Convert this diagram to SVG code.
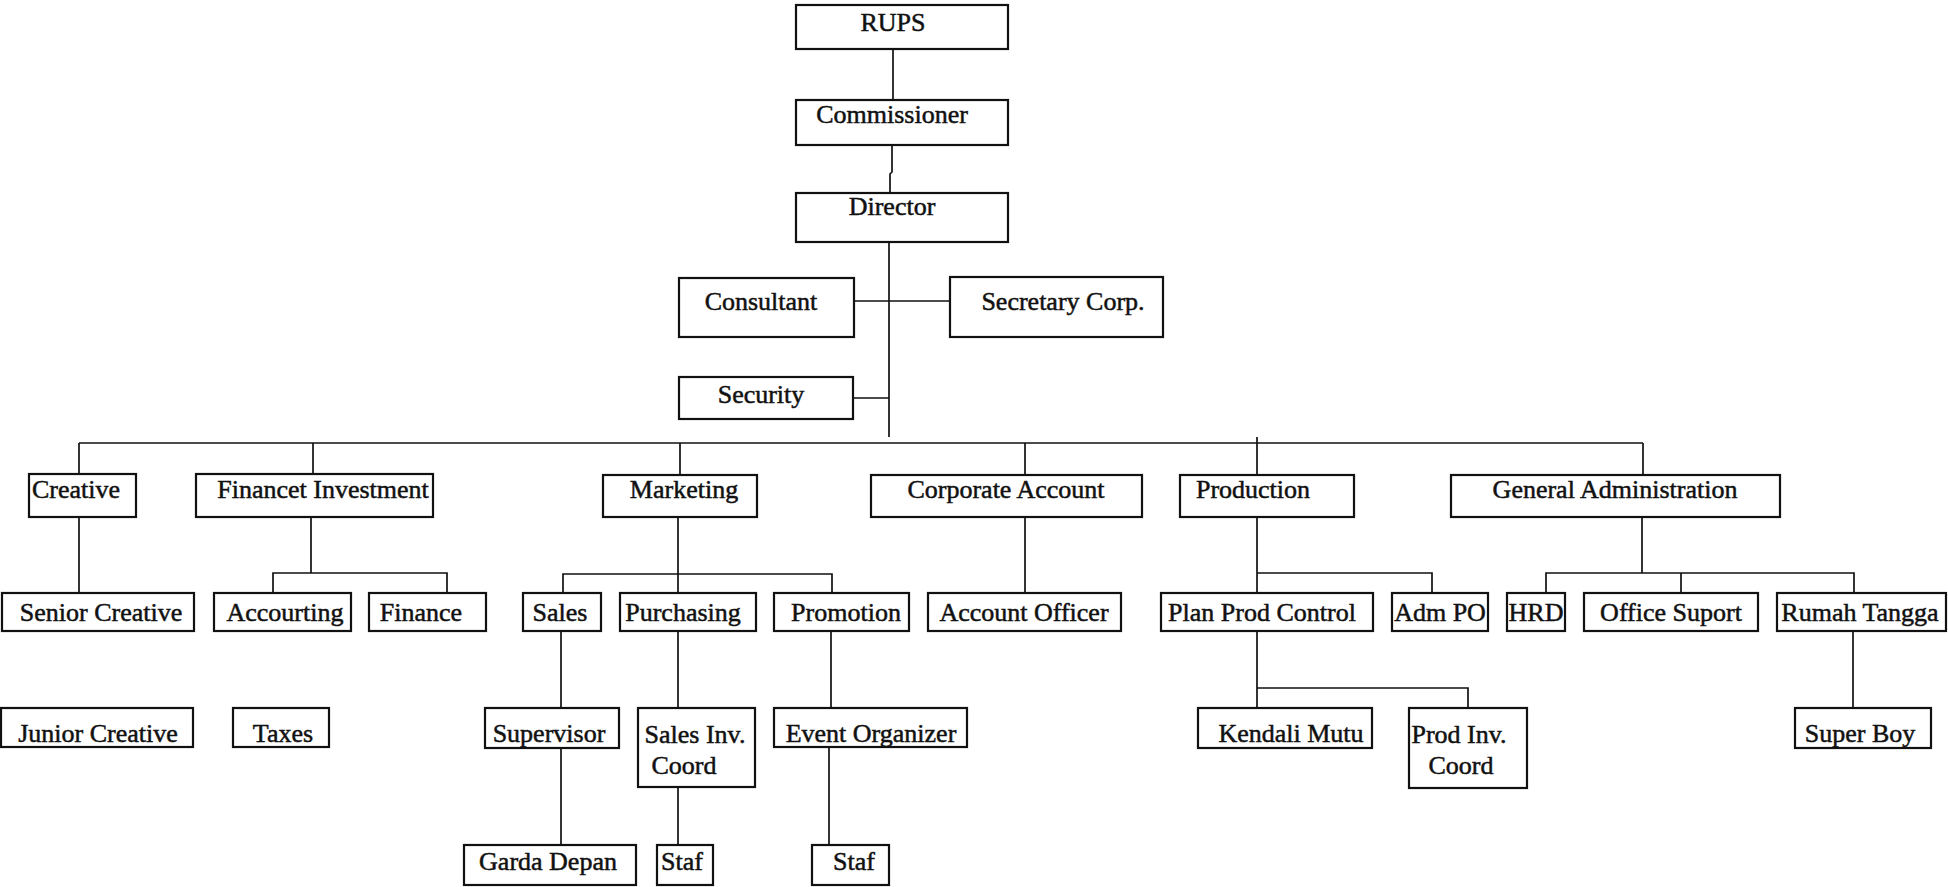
<svg xmlns="http://www.w3.org/2000/svg" width="1948" height="887" viewBox="0 0 1948 887">
<style>
.b{fill:#fff;stroke:#111;stroke-width:2.2}
.t{font-family:"Liberation Serif","Times New Roman",serif;font-size:26px;fill:#111;stroke:#111;stroke-width:0.5;text-anchor:middle}
.c{fill:none;stroke:#111;stroke-width:1.7}
</style>
<rect width="1948" height="887" fill="#fff"/>
<g id="connectors" class="c">
<path d="M893 49V100"/>
<path d="M892 145V172L890 174V193"/>
<path d="M889 242V437"/>
<path d="M854 301H950"/>
<path d="M853 398H889"/>
<path d="M79 443H1643"/>
<path d="M79 443V474M313 443V474M680 443V475M1025 443V476M1257 437V475M1643 443V475"/>
<path d="M79 517V593"/>
<path d="M311 517V573M273 593V573H447V593"/>
<path d="M678 517V593M563 593V574H832V593"/>
<path d="M1025 516V593"/>
<path d="M1257 517V593M1257 573H1432V593"/>
<path d="M1642 517V573M1546 593V573H1854V593M1681 573V593"/>
<path d="M561 631V708M561 748V845"/>
<path d="M678 631V708M678 787V845"/>
<path d="M831 631V708M829 747V845"/>
<path d="M1257 631V708M1257 688H1468V708"/>
<path d="M1853 631V708"/>
</g>
<g id="rups"><rect class="b" x="796" y="5" width="212" height="44"/><text class="t" x="893" y="31">RUPS</text></g>
<g id="commissioner"><rect class="b" x="796" y="100" width="212" height="45"/><text class="t" x="892" y="123">Commissioner</text></g>
<g id="director"><rect class="b" x="796" y="193" width="212" height="49"/><text class="t" x="892" y="215">Director</text></g>
<g id="consultant"><rect class="b" x="679" y="278" width="175" height="59"/><text class="t" x="761" y="310">Consultant</text></g>
<g id="secretary"><rect class="b" x="950" y="277" width="213" height="60"/><text class="t" x="1063" y="310">Secretary Corp.</text></g>
<g id="security"><rect class="b" x="679" y="377" width="174" height="42"/><text class="t" x="761" y="403">Security</text></g>
<g id="creative"><rect class="b" x="29" y="474" width="107" height="43"/><text class="t" x="76" y="498">Creative</text></g>
<g id="financet"><rect class="b" x="196" y="474" width="237" height="43"/><text class="t" x="323" y="498">Financet Investment</text></g>
<g id="marketing"><rect class="b" x="603" y="475" width="154" height="42"/><text class="t" x="684" y="498">Marketing</text></g>
<g id="corporate"><rect class="b" x="871" y="475" width="271" height="42"/><text class="t" x="1006" y="498">Corporate Account</text></g>
<g id="production"><rect class="b" x="1180" y="475" width="174" height="42"/><text class="t" x="1253" y="498">Production</text></g>
<g id="genadmin"><rect class="b" x="1451" y="475" width="329" height="42"/><text class="t" x="1615" y="498">General Administration</text></g>
<g id="seniorcreative"><rect class="b" x="2" y="593" width="192" height="38"/><text class="t" x="101" y="621">Senior Creative</text></g>
<g id="accourting"><rect class="b" x="214" y="593" width="137" height="38"/><text class="t" x="285" y="621">Accourting</text></g>
<g id="finance"><rect class="b" x="369" y="593" width="117" height="38"/><text class="t" x="421" y="621">Finance</text></g>
<g id="sales"><rect class="b" x="523" y="593" width="78" height="38"/><text class="t" x="560" y="621">Sales</text></g>
<g id="purchasing"><rect class="b" x="620" y="593" width="136" height="38"/><text class="t" x="683" y="621">Purchasing</text></g>
<g id="promotion"><rect class="b" x="774" y="593" width="135" height="38"/><text class="t" x="846" y="621">Promotion</text></g>
<g id="accountofficer"><rect class="b" x="928" y="593" width="193" height="38"/><text class="t" x="1024" y="621">Account Officer</text></g>
<g id="planprod"><rect class="b" x="1161" y="593" width="212" height="38"/><text class="t" x="1262" y="621">Plan Prod Control</text></g>
<g id="admpo"><rect class="b" x="1392" y="593" width="96" height="38"/><text class="t" x="1440" y="621">Adm PO</text></g>
<g id="hrd"><rect class="b" x="1507" y="593" width="58" height="38"/><text class="t" x="1536" y="621">HRD</text></g>
<g id="officesuport"><rect class="b" x="1584" y="593" width="174" height="38"/><text class="t" x="1671" y="621">Office Suport</text></g>
<g id="rumahtangga"><rect class="b" x="1777" y="593" width="169" height="38"/><text class="t" x="1860" y="621">Rumah Tangga</text></g>
<g id="juniorcreative"><rect class="b" x="1" y="708" width="192" height="39"/><text class="t" x="98" y="742">Junior Creative</text></g>
<g id="taxes"><rect class="b" x="233" y="708" width="96" height="39"/><text class="t" x="283" y="742">Taxes</text></g>
<g id="supervisor"><rect class="b" x="485" y="708" width="134" height="40"/><text class="t" x="549" y="742">Supervisor</text></g>
<g id="salesinv"><rect class="b" x="638" y="708" width="117" height="79"/><text class="t" x="695" y="743">Sales Inv.</text><text class="t" x="684" y="774">Coord</text></g>
<g id="eventorg"><rect class="b" x="774" y="708" width="193" height="39"/><text class="t" x="871" y="742">Event Organizer</text></g>
<g id="kendalimutu"><rect class="b" x="1198" y="708" width="174" height="40"/><text class="t" x="1291" y="742">Kendali Mutu</text></g>
<g id="prodinv"><rect class="b" x="1409" y="708" width="118" height="80"/><text class="t" x="1459" y="743">Prod Inv.</text><text class="t" x="1461" y="774">Coord</text></g>
<g id="superboy"><rect class="b" x="1795" y="708" width="136" height="40"/><text class="t" x="1860" y="742">Super Boy</text></g>
<g id="gardadepan"><rect class="b" x="464" y="845" width="172" height="40"/><text class="t" x="548" y="870">Garda Depan</text></g>
<g id="staf1"><rect class="b" x="657" y="845" width="56" height="40"/><text class="t" x="682" y="870">Staf</text></g>
<g id="staf2"><rect class="b" x="812" y="845" width="77" height="40"/><text class="t" x="854" y="870">Staf</text></g>
</svg>
